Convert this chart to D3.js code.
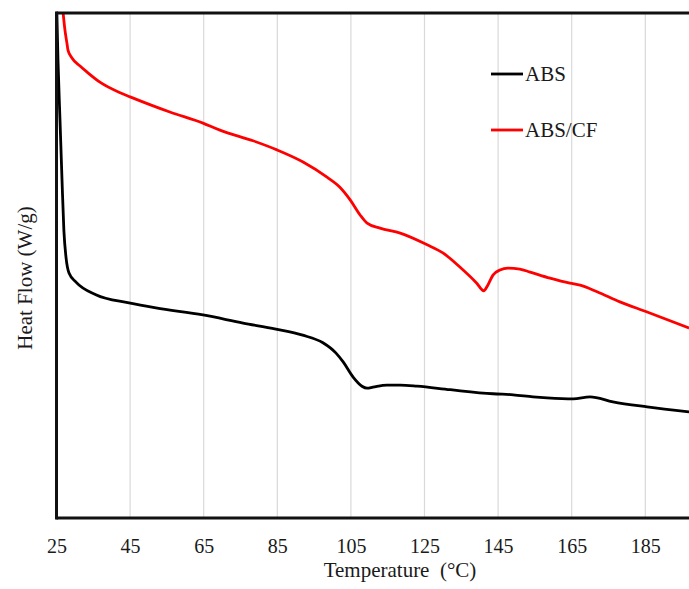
<!DOCTYPE html>
<html>
<head>
<meta charset="utf-8">
<script src="https://cdn.jsdelivr.net/npm/d3@7/dist/d3.min.js"></script>
<style>
html,body{margin:0;padding:0;background:#fff;}
svg{display:block;}
text{font-family:"Liberation Serif","Times New Roman",serif;fill:#1a1a1a;}
</style>
</head>
<body>
<svg id="chart" width="689" height="589"></svg>
<script>
// Temperature (°C) and heat flow (arbitrary units)
const absTemp = [25.1,25.4,25.95,26.5,27.0,27.6,28.4,30.3,35.7,44.7,52.0,64.8,75.7,84.6,91.9,97.4,100.9,102.9,105.6,108.0,109.4,111.0,114.8,118.4,123.0,132.0,143.6,149.1,154.5,158.3,165.4,170.0,176.2,185.5,196.9];
const absFlow = [10.0,9.07,7.88,6.69,5.70,5.15,4.85,4.67,4.42,4.26,4.16,4.02,3.86,3.74,3.62,3.47,3.27,3.09,2.79,2.61,2.57,2.59,2.63,2.63,2.61,2.54,2.46,2.44,2.40,2.38,2.36,2.40,2.30,2.20,2.10];
const cfTemp = [26.8,27.3,27.9,28.1,29.2,31.4,33.3,36.8,42.3,45.0,55.8,64.8,69.4,78.4,84.9,92.0,98.5,102.0,104.8,107.5,109.4,112.9,118.4,125.7,130.0,134.6,139.2,141.1,142.2,143.6,145.5,147.7,150.9,153.7,159.1,164.5,167.3,171.9,178.1,185.5,196.9];
const cfFlow = [10.0,9.66,9.37,9.27,9.11,8.95,8.83,8.63,8.42,8.34,8.04,7.82,7.68,7.47,7.29,7.05,6.75,6.55,6.30,6.00,5.84,5.74,5.64,5.41,5.25,4.97,4.65,4.50,4.61,4.81,4.91,4.95,4.93,4.87,4.75,4.65,4.61,4.48,4.28,4.08,3.76];
const seriesNames = ["ABS","ABS/CF"];
const seriesColors = ["#000000","#ff0000"];
const xTicks = [25,45,65,85,105,125,145,165,185];
const xLabel = "Temperature  (°C)";
const yLabel = "Heat Flow (W/g)";

const svg = d3.select("#chart");
const pL = 56.5, pT = 13, pB = 518, pR = 689;
const x = d3.scaleLinear().domain([25,200]).range([pL, pL + 175*3.68]);
const y = d3.scaleLinear().domain([0,10]).range([pB, pT]);

svg.append("defs").append("clipPath").attr("id","clip")
  .append("rect").attr("x",pL).attr("y",pT).attr("width",pR-pL+20).attr("height",pB-pT);

// gridlines
svg.append("g").selectAll("line").data(xTicks.slice(1)).join("line")
  .attr("x1",d=>x(d)).attr("x2",d=>x(d)).attr("y1",pT).attr("y2",pB)
  .attr("stroke","#d9d9d9").attr("stroke-width",1.2);

// x axis labels via d3 axis
const xAxis = d3.axisBottom(x).tickValues(xTicks).tickSize(0).tickPadding(0);
const gx = svg.append("g").attr("transform",`translate(0,${pB})`).call(xAxis);
gx.select(".domain").remove();
gx.selectAll("text").attr("y",35).attr("dy",0).style("font-size","20px")
  .style("font-family","'Liberation Serif','Times New Roman',serif").attr("fill","#1a1a1a");

// lines
const line = d3.line().x(d=>x(d[0])).y(d=>y(d[1])).curve(d3.curveMonotoneX);
const absData = absTemp.map((t,i)=>[t,absFlow[i]]);
const cfData = cfTemp.map((t,i)=>[t,cfFlow[i]]);
const g = svg.append("g").attr("clip-path","url(#clip)");
g.append("path").datum(absData).attr("d",line).attr("fill","none")
  .attr("stroke",seriesColors[0]).attr("stroke-width",2.8).attr("stroke-linejoin","round");
g.append("path").datum(cfData).attr("d",line).attr("fill","none")
  .attr("stroke",seriesColors[1]).attr("stroke-width",2.8).attr("stroke-linejoin","round");

// frame
svg.append("line").attr("x1",pL).attr("x2",pR).attr("y1",pT).attr("y2",pT).attr("stroke","#111").attr("stroke-width",3);
svg.append("line").attr("x1",pL).attr("x2",pR).attr("y1",pB).attr("y2",pB).attr("stroke","#111").attr("stroke-width",3);
svg.append("line").attr("x1",pL).attr("x2",pL).attr("y1",pT-1.5).attr("y2",pB+1.5).attr("stroke","#111").attr("stroke-width",3);

// axis titles
svg.append("text").attr("x",400).attr("y",577).attr("text-anchor","middle")
  .style("font-size","21px").style("white-space","pre").text(xLabel);
svg.append("text").attr("transform","translate(32,278) rotate(-90)").attr("text-anchor","middle")
  .style("font-size","21px").text(yLabel);

// legend
const legY = [74,130];
seriesNames.forEach((n,i)=>{
  svg.append("line").attr("x1",491).attr("x2",523).attr("y1",legY[i]).attr("y2",legY[i])
    .attr("stroke",seriesColors[i]).attr("stroke-width",2.8);
  svg.append("text").attr("x",525).attr("y",legY[i]+7).style("font-size","21px").text(n);
});
</script>
</body>
</html>
